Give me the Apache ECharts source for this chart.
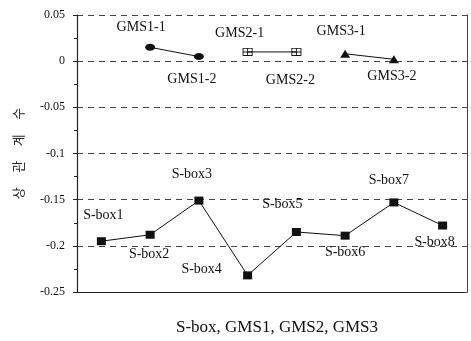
<!DOCTYPE html>
<html><head><meta charset="utf-8">
<script src="https://cdn.jsdelivr.net/npm/echarts@6/dist/echarts.min.js"></script>
<style>html,body{margin:0;padding:0;background:#fff}#c{width:471px;height:341px}</style>
</head><body><div id="c"></div>
<script>
var categories = ['1','2','3','4','5','6','7','8'];
var yTicks = [-0.25, -0.2, -0.15, -0.1, -0.05, 0, 0.05];
var sboxValues = [-0.195, -0.188, -0.151, -0.232, -0.185, -0.189, -0.153, -0.178];
var sboxNames = ['S-box1','S-box2','S-box3','S-box4','S-box5','S-box6','S-box7','S-box8'];
var gms1Values = [null, 0.015, 0.005, null, null, null, null, null];
var gms1Names = ['', 'GMS1-1', 'GMS1-2', '', '', '', '', ''];
var gms2Values = [null, null, null, 0.01, 0.01, null, null, null];
var gms2Names = ['', '', '', 'GMS2-1', 'GMS2-2', '', '', ''];
var gms3Values = [null, null, null, null, null, 0.008, 0.002, null];
var gms3Names = ['', '', '', '', '', 'GMS3-1', 'GMS3-2', ''];
var xTitle = 'S-box, GMS1, GMS2, GMS3';
var yTitle = '상     관     계     수';

// label layout (pixel offsets), separate from data
var sboxOffsets = [[2,-26],[-1,20],[-7,-26],[-46,-6],[-14,-28],[0,17],[-5,-22],[-8,17]];
var gmsOffsets = [null,[-9,-20],[-7,23],[-8,-19],[-6,28],[-4,-22],[-2,17],null];

var font = 'Liberation Serif';
function build(values, names, offsets) {
  return values.map(function (v, i) {
    if (v === null) return null;
    return {
      value: v,
      label: { show: true, formatter: names[i], position: 'inside', offset: offsets[i] }
    };
  });
}
var labelStyle = { color: '#111', fontFamily: font, fontSize: 14 };
var lineStyle = { color: '#111', width: 1 };
var gms2Symbol = 'path://M0,0H11V9H0Z M1,1V4H5V1Z M6,1V4H10V1Z M1,5V8H5V5Z M6,5V8H10V5Z';

var chart = echarts.init(document.getElementById('c'));
chart.setOption({
  animation: false,
  backgroundColor: '#fff',
  grid: { left: 77, right: 4, top: 15, bottom: 43 },
  xAxis: {
    type: 'category', data: categories, boundaryGap: true,
    name: xTitle, nameLocation: 'middle', nameGap: 27,
    nameTextStyle: { fontFamily: font, fontSize: 17, color: '#111', padding: [0, 0, 0, 10] },
    axisLine: { onZero: false, lineStyle: { color: '#222', width: 1 } },
    axisTick: { alignWithLabel: true, length: 4, lineStyle: { color: '#222' } },
    axisLabel: { show: false },
    splitLine: { show: false }
  },
  yAxis: [{
    type: 'value', min: yTicks[0], max: yTicks[yTicks.length - 1], interval: 0.05,
    name: yTitle, nameLocation: 'middle', nameGap: 52, nameRotate: 90,
    nameTextStyle: { fontFamily: 'Noto Sans CJK KR', fontSize: 13, color: '#222' },
    axisLine: { show: true, onZero: false, lineStyle: { color: '#222', width: 1.2 } },
    axisTick: { show: true, length: 4, lineStyle: { color: '#222' } },
    minorTick: { show: true, splitNumber: 2, length: 3, lineStyle: { color: '#222' } },
    axisLabel: { fontFamily: font, fontSize: 12, color: '#111', margin: 12 },
    splitLine: { show: true, lineStyle: { color: '#444', type: [6, 5], width: 1 } }
  }, {
    type: 'value', position: 'right', min: yTicks[0], max: yTicks[yTicks.length - 1], interval: 0.05,
    axisLine: { show: true, onZero: false, lineStyle: { color: '#444', width: 1 } },
    axisTick: { show: true, inside: true, length: 3, lineStyle: { color: '#444' } },
    axisLabel: { show: false }, splitLine: { show: false }
  }],
  series: [
    { type: 'line', data: build(sboxValues, sboxNames, sboxOffsets), symbol: 'rect', symbolSize: [9, 8],
      itemStyle: { color: '#111' }, lineStyle: lineStyle, label: labelStyle, connectNulls: false },
    { type: 'line', data: build(gms1Values, gms1Names, gmsOffsets), symbol: 'circle', symbolSize: [10, 7],
      itemStyle: { color: '#111' }, lineStyle: lineStyle, label: labelStyle },
    { type: 'line', data: build(gms2Values, gms2Names, gmsOffsets), symbol: gms2Symbol, symbolSize: [10, 8],
      itemStyle: { color: '#111' }, lineStyle: lineStyle, label: labelStyle },
    { type: 'line', data: build(gms3Values, gms3Names, gmsOffsets), symbol: 'triangle', symbolSize: [10, 8],
      itemStyle: { color: '#111' }, lineStyle: lineStyle, label: labelStyle }
  ]
});
</script></body></html>
